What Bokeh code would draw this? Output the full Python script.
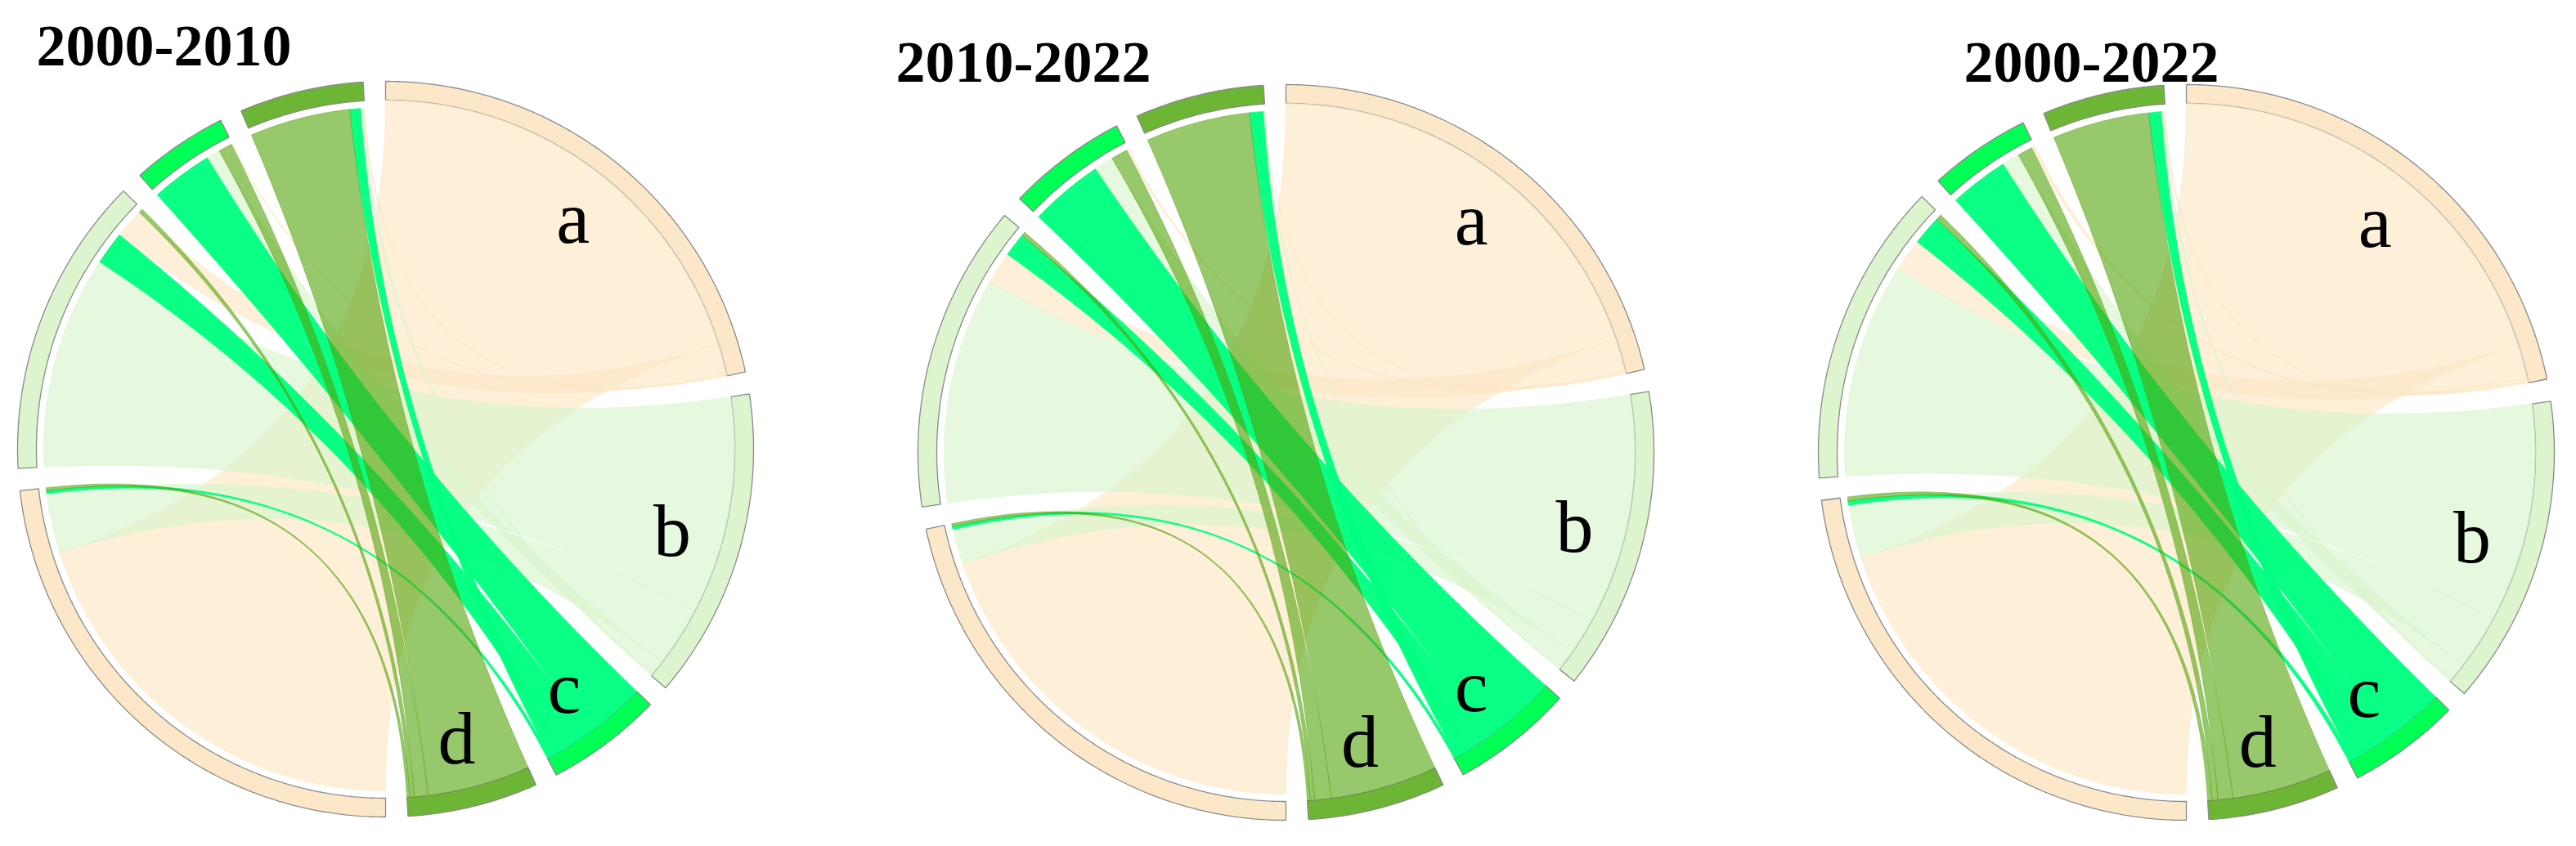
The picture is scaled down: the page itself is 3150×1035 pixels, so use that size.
import numpy as np
from bokeh.plotting import figure
from bokeh.models import Range1d
from bokeh.core.properties import value
from bokeh.embed import file_html
from bokeh.resources import INLINE

# ---------------- data ----------------
categories = ["a", "b", "c", "d"]
titles = ["2000-2010", "2010-2022", "2000-2022"]

# transition flows: rows = sectors on the left half (a..d), columns = sectors on the right half (a..d)
flows_2000_2010 = [
    [72.0, 10.0, 0.5, 0.5],
    [5.0, 36.0, 5.6, 0.7],
    [0.2, 2.3, 10.4, 2.3],
    [0.2, 0.5, 1.8, 17.0],
]
flows_2010_2022 = [
    [71.0, 6.0, 0.5, 0.5],
    [5.5, 38.5, 4.0, 0.7],
    [0.4, 3.3, 12.5, 2.8],
    [0.1, 0.2, 2.3, 17.8],
]
flows_2000_2022 = [
    [72.0, 9.0, 0.7, 0.7],
    [5.5, 36.5, 5.0, 1.0],
    [0.6, 3.0, 10.0, 2.5],
    [0.3, 0.4, 2.1, 16.5],
]
panels = [flows_2000_2010, flows_2010_2022, flows_2000_2022]

ring_colors = ["#FCE8C8", "#DCF5CF", "#00FF55", "#6CB535"]
link_colors = ["#FCE8C8", "#DCF5CF", "#00FF80", "#4EA002"]
link_alphas = [0.7, 0.7, 0.96, 0.58]

# ---------------- geometry ----------------
W, H = 3134, 1019
centers = [(479, 557), (1580, 561), (2681, 561)]
title_pos = [(52, 64), (1103, 84), (2409, 84)]
R_OUT = 450.0
RING = 23.0
R_IN = R_OUT - RING
R_LEFT = R_IN - 9.0
GAP = 3.5

p = figure(width=W, height=H, output_backend="svg", toolbar_location=None,
           x_range=Range1d(8, 8 + W), y_range=Range1d(8 + H, 8),
           x_axis_location=None, y_axis_location=None,
           min_border=0, min_border_left=0, min_border_right=0,
           min_border_top=0, min_border_bottom=0)
p.outline_line_color = None
p.xgrid.visible = False
p.ygrid.visible = False
p.background_fill_color = "white"
p.border_fill_color = "white"


def pt(cx, cy, ang, r):
    t = np.radians(ang)
    return cx + r * np.cos(t), cy - r * np.sin(t)


def arc(cx, cy, a0, a1, r):
    n = max(3, int(abs(a1 - a0) * 2) + 2)
    t = np.radians(np.linspace(a0, a1, n))
    return list(cx + r * np.cos(t)), list(cy - r * np.sin(t))


def bez(cx, cy, p0, p2, n=80):
    t = np.linspace(0, 1, n)
    x = (1 - t) ** 2 * p0[0] + 2 * t * (1 - t) * cx + t ** 2 * p2[0]
    y = (1 - t) ** 2 * p0[1] + 2 * t * (1 - t) * cy + t ** 2 * p2[1]
    return list(x), list(y)


for k, flows in enumerate(panels):
    cx, cy = centers[k]
    M = np.array(flows, dtype=float)
    rows = M.sum(axis=1)
    cols = M.sum(axis=0)
    scale = (360.0 - 8 * GAP) / (rows.sum() + cols.sum())
    sizes = list(cols * scale) + list(rows * scale)
    starts = []
    a = 90.0
    for s in sizes:
        starts.append(a)
        a -= s + GAP

    # ring segments
    rx, ry, rc = [], [], []
    for s_i in range(8):
        a0 = starts[s_i]
        a1 = a0 - sizes[s_i]
        ox, oy = arc(cx, cy, a0, a1, R_OUT)
        ix, iy = arc(cx, cy, a1, a0, R_IN)
        rx.append(ox + ix)
        ry.append(oy + iy)
        rc.append(ring_colors[s_i % 4])
    p.patches(rx, ry, fill_color=rc, line_color="#8A8A8A", line_width=1.3)

    # link positions inside sectors (decreasing width, clockwise)
    right_pos, left_pos = {}, {}
    for j in range(4):
        a0 = starts[j]
        for i in sorted(range(4), key=lambda i: -M[i, j]):
            w = M[i, j] * scale
            right_pos[(i, j)] = (a0, a0 - w)
            a0 -= w
    for i in range(4):
        a0 = starts[4 + i]
        for j in sorted(range(4), key=lambda j: -M[i, j]):
            w = M[i, j] * scale
            left_pos[(i, j)] = (a0, a0 - w)
            a0 -= w

    # links, drawn by colour group (ribbon: left arc, curve to right start, right arc, curve back)
    for j in range(4):
        xs, ys = [], []
        for i in sorted(range(4), key=lambda i: -M[i, j]):
            if M[i, j] <= 0:
                continue
            ls, le = left_pos[(i, j)]
            rs, re = right_pos[(i, j)]
            x1, y1 = arc(cx, cy, ls, le, R_LEFT)
            x2, y2 = bez(cx, cy, pt(cx, cy, le, R_LEFT), pt(cx, cy, rs, R_IN))
            x3, y3 = arc(cx, cy, rs, re, R_IN)
            x4, y4 = bez(cx, cy, pt(cx, cy, re, R_IN), pt(cx, cy, ls, R_LEFT))
            xs.append(x1 + x2 + x3 + x4)
            ys.append(y1 + y2 + y3 + y4)
        p.patches(xs, ys, fill_color=link_colors[j], fill_alpha=link_alphas[j],
                  line_color=link_colors[j], line_alpha=min(1.0, link_alphas[j] * 0.9), line_width=0.8)

    # sector labels on the right half
    lx, ly = [], []
    for j in range(4):
        mid = starts[j] - sizes[j] / 2.0
        x, y = pt(cx, cy, mid, 0.81 * R_OUT)
        lx.append(x)
        ly.append(y)
    p.text(lx, ly, text=categories, text_font=value("Liberation Serif"), text_font_size="92px",
           text_align="center", text_baseline="middle", text_color="black")

    # title
    tx, ty = title_pos[k]
    p.text([tx], [ty], text=[titles[k]], text_font=value("Liberation Serif"), text_font_size="72px",
           text_font_style="bold", text_align="left", text_baseline="alphabetic", text_color="black")

open("out.html", "w").write(file_html(p, INLINE))
